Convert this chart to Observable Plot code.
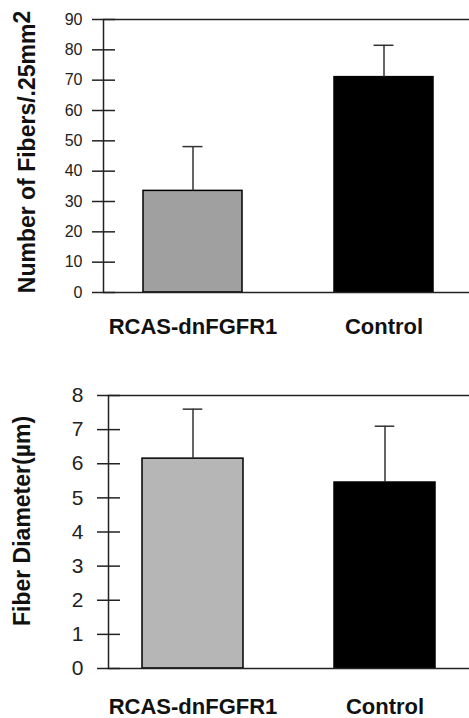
<!DOCTYPE html>
<html><head><meta charset="utf-8">
<script src="https://cdn.jsdelivr.net/npm/d3@7"></script>
<script src="https://cdn.jsdelivr.net/npm/@observablehq/plot@0.6"></script>
<style>
body{margin:0;background:#fff;}
#chart svg{display:block;}
</style>
</head><body><div id="chart"></div>
<script>
const groups = ["RCAS-dnFGFR1", "Control"];
const fiberCount = [33.5, 71];
const fiberCountErr = [14.6, 10.5];
const fiberDiameter = [6.15, 5.45];
const fiberDiameterErr = [1.45, 1.65];
const countTicks = [0, 10, 20, 30, 40, 50, 60, 70, 80, 90];
const diameterTicks = [0, 1, 2, 3, 4, 5, 6, 7, 8];
const countColors = ["#a0a0a0", "#000000"];
const diameterColors = ["#b6b6b6", "#000000"];
const countTitle = "Number of Fibers/.25mm";
const countTitleSup = "2";
const diameterTitle = "Fiber Diameter(\u00b5m)";

const W = 469;
const font = "'Liberation Sans', Arial, Helvetica, sans-serif";

function panel(o) {
  const data = groups.map((g, i) => ({group: g, value: o.values[i], err: o.errors[i], color: o.colors[i]}));
  const frameW = W - o.marginLeft;
  const bw = (o.xRange[1] - o.xRange[0]) / (2 - o.paddingInner) * (1 - o.paddingInner);
  const capInset = (bw - 20) / 2;
  return Plot.plot({
    width: W, height: o.height,
    marginTop: o.marginTop, marginBottom: o.marginBottom, marginLeft: o.marginLeft, marginRight: 0,
    style: {fontFamily: font, color: "#111", background: "#fff", overflow: "visible"},
    x: {domain: groups, range: o.xRange, paddingInner: o.paddingInner, paddingOuter: 0},
    y: {domain: [0, o.yMax]},
    color: {type: "identity"},
    marks: [
      Plot.barY(data, {x: "group", y: "value", fill: "color", stroke: "#000", strokeWidth: 1.5}),
      Plot.ruleX(data, {x: "group", y1: "value", y2: d => d.value + d.err, stroke: "#333", strokeWidth: 1.5}),
      Plot.tickY(data, {x: "group", y: d => d.value + d.err, stroke: "#333", strokeWidth: 1.5, insetLeft: capInset, insetRight: capInset}),
      Plot.frame({stroke: "#222", strokeWidth: 1.5, insetRight: -3}),
      Plot.tickY(o.ticks, {y: d => d, stroke: "#222", strokeWidth: 1.5, insetRight: frameW - 23, dx: -11}),
      Plot.axisY(o.ticks, {tickSize: 0, tickPadding: o.labelPad, fontSize: o.tickFont, label: null, fill: "#222"}),
      Plot.axisX({tickSize: 0, tickPadding: o.xPad, fontSize: 22, fontWeight: "bold", label: null, fill: "#111"}),
      Plot.text([o.title], {text: d => d, frameAnchor: "left", textAnchor: "middle", rotate: -90, dx: o.titleDx, dy: o.titleDy, fontSize: o.titleSize, fontWeight: "bold", fill: "#111"})
    ]
  });
}

const topChart = panel({
  values: fiberCount, errors: fiberCountErr, colors: countColors, ticks: countTicks, yMax: 90,
  height: 350, marginTop: 19, marginBottom: 58, marginLeft: 103,
  xRange: [142.5, 433.5], paddingInner: 0.484,
  tickFont: 16, labelPad: 21, xPad: 26,
  title: countTitle, titleSize: 23, titleDx: -76, titleDy: -4
});
const bottomChart = panel({
  values: fiberDiameter, errors: fiberDiameterErr, colors: diameterColors, ticks: diameterTicks, yMax: 8,
  height: 368, marginTop: 45, marginBottom: 50, marginLeft: 108,
  xRange: [142, 436], paddingInner: 0.473,
  tickFont: 21, labelPad: 25, xPad: 30,
  title: diameterTitle, titleSize: 23, titleDx: -86, titleDy: -11
});

d3.select(topChart).selectAll("text").filter(function() { return this.textContent === countTitle; })
  .each(function() {
    const t = d3.select(this);
    t.text(null);
    t.append("tspan").text(countTitle);
    t.append("tspan").attr("dy", "-0.2em").text(countTitleSup);
  });

document.getElementById("chart").append(topChart, bottomChart);
</script>
</body></html>
